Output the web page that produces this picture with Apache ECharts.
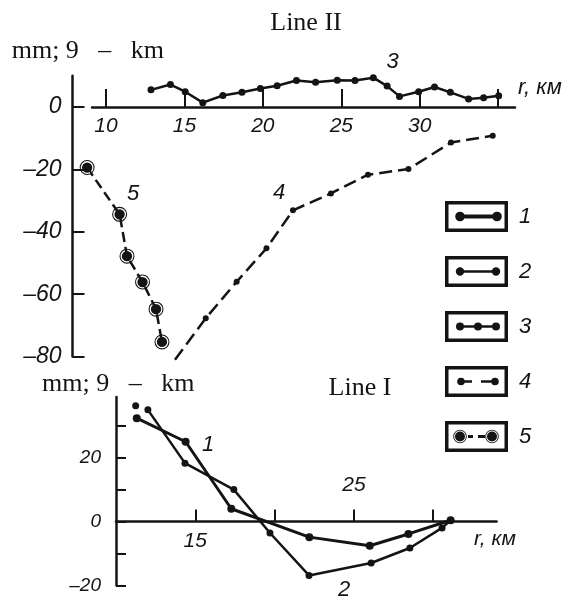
<!DOCTYPE html>
<html>
<head>
<meta charset="utf-8">
<script src="https://cdn.jsdelivr.net/npm/echarts@6.0.0/dist/echarts.min.js"></script>
<style>
html, body { margin: 0; padding: 0; background: #fff; }
#chart { width: 571px; height: 601px; }
</style>
</head>
<body>
<div id="chart"></div>
<script>
"use strict"

// Line II (top panel), r in km, values in mm
var line3Km = [12.87, 14.11, 15.05, 16.17, 17.45, 18.67, 19.84, 20.91, 22.14, 23.36, 24.74, 25.87, 27.04, 27.92, 28.71, 29.93, 30.94, 31.95, 33.11, 34.07, 35.03];
var line3Mm = [5.5, 7.2, 4.9, 1.4, 3.7, 4.7, 5.9, 6.8, 8.5, 7.9, 8.6, 8.5, 9.4, 6.7, 3.4, 4.9, 6.4, 4.7, 2.6, 3.0, 3.6];
var line4Km = [14.40, 16.36, 18.33, 20.23, 21.92, 24.34, 26.70, 29.28, 31.99, 34.65];
var line4Mm = [-81, -67.7, -56.0, -45.3, -33.1, -27.7, -21.7, -19.9, -11.4, -9.2];
var line5Km = [8.80, 10.87, 11.34, 12.33, 13.19, 13.57];
var line5Mm = [-19.4, -34.4, -47.8, -56.1, -64.8, -75.3];

// Line I (bottom panel)
var line1Km = [11.31, 14.39, 17.27, 22.19, 26.0, 28.44, 31.1];
var line1Mm = [32.4, 25.0, 4.0, -4.9, -7.6, -3.9, 0.4];
var line2Km = [11.24, 11.6, 12.01, 14.35, 17.43, 19.71, 22.17, 26.09, 28.53, 30.56, 31.1];
var line2Mm = [36.3, '-', 35.0, 18.3, 10.0, -3.6, -16.9, -13.0, -8.3, -2.0, 0.4];

// ticks and labels
var topXTicks = [10, 15, 20, 25, 30, 35];
var topXLabels = [10, 15, 20, 25, 30];
var topYTicks = [0, -20, -40, -60, -80];
var botXTicks = [15, 20, 25, 30];
var botXLabelsBelow = [15];
var botXLabelsAbove = [25];
var botYTicks = [-20, -10, 0, 10, 20, 30];
var botYLabels = [-20, 0, 20];
var seriesNames = ['1', '2', '3', '4', '5'];

var INK = '#141414';

function pairs(xs, ys){
    var out = [];
    for(let i = 0; i < xs.length; i++){
        out.push([xs[i], ys[i]]);
    }
    return out;
}

function minusLabel(v){
    return v < 0 ? '\u2013' + (-v) : '' + v;
}

// legend icon pieces, drawn in a 63x31 box
function circ(cx, cy, r, cw){
    var s = cw ? 1 : 0;
    return 'M' + (cx - r) + ' ' + cy + 'A' + r + ' ' + r + ' 0 1 ' + s + ' ' + (cx + r) + ' ' + cy +
           'A' + r + ' ' + r + ' 0 1 ' + s + ' ' + (cx - r) + ' ' + cy + 'Z';
}
function bar(x1, x2, cy, t){
    return 'M' + x1 + ' ' + (cy - t / 2) + 'H' + x2 + 'V' + (cy + t / 2) + 'H' + x1 + 'Z';
}
function ring(cx, cy){
    return circ(cx, cy, 6.8, true) + circ(cx, cy, 5.9, false) + circ(cx, cy, 5, true);
}
var frame = 'M0 0H63V31H0Z M3.5 3.5V27.5H59.5V3.5Z';
var icons = [
    frame + bar(15, 52, 15.5, 4) + circ(15, 15.5, 4.8, true) + circ(52, 15.5, 4.8, true),
    frame + bar(15, 51, 15.5, 2.5) + circ(15, 15.5, 4.2, true) + circ(51, 15.5, 4.2, true),
    frame + bar(15, 51, 15.5, 2.5) + circ(15, 15.5, 4, true) + circ(33, 15.5, 4, true) + circ(51, 15.5, 4, true),
    frame + bar(16, 27, 15.5, 2.5) + bar(36, 50, 15.5, 2.5) + circ(16, 15.5, 3.8, true) + circ(50, 15.5, 3.8, true),
    frame + bar(23, 28, 15.5, 3) + bar(33, 40, 15.5, 3) + ring(15, 15.5) + ring(47, 15.5)
];
// circled dot for series 5
var ringSymbol = 'path://M0 7A7 7 0 1 1 14 7A7 7 0 1 1 0 7Z M1 7A6 6 0 1 0 13 7A6 6 0 1 0 1 7Z M2.2 7A4.8 4.8 0 1 1 11.8 7A4.8 4.8 0 1 1 2.2 7Z';

function axisFont(size){
    return { fontFamily: 'Liberation Sans', fontStyle: 'italic', fontSize: size, color: INK };
}

function label(text, x, y, font, align){
    return {
        type: 'text', x: x, y: y, silent: true,
        style: { text: text, font: font, fill: INK, align: align || 'center', verticalAlign: 'middle',
                 textAlign: align || 'center', textVerticalAlign: 'middle' }
    };
}

// an axis that only places things, draws nothing
function hiddenAxis(grid, min, max){
    return { type: 'value', gridIndex: grid, min: min, max: max, show: false };
}

function drawChart(target){
    var chart = echarts.init(document.getElementById(target));
    var serif = '26px "Liberation Serif"';
    var ital = 'italic 22px "Liberation Sans"';
    var legendData = [];
    for(let i = 0; i < seriesNames.length; i++){
        legendData.push({ name: seriesNames[i], icon: 'path://' + icons[i] });
    }
    var axisLine = { show: true, onZero: false, lineStyle: { color: INK, width: 2.5 } };
    var tickStyle = { color: INK, width: 2 };

    var option = {
        animation: false,
        backgroundColor: '#fff',
        grid: [
            { left: 92, top: 75.8, width: 423, height: 280.8 },   // top, data
            { left: 92, top: 75.8, width: 423, height: 31.2 },    // top, down to r axis
            { left: 116, top: 397.1, width: 380.6, height: 188.2 }, // bottom, data
            { left: 116, top: 397.1, width: 380.6, height: 124.4 }, // bottom, above r axis
            { left: 116, top: 521.5, width: 380.6, height: 63.8 }   // bottom, below r axis
        ],
        xAxis: [
            hiddenAxis(0, 9.11, 36.07),
            {
                type: 'value', gridIndex: 1, min: 9.11, max: 36.07, position: 'bottom',
                splitLine: { show: false }, axisLine: axisLine,
                axisTick: { inside: true, length: 18, customValues: topXTicks, lineStyle: tickStyle },
                axisLabel: echarts.util.extend({ margin: 9, customValues: topXLabels }, axisFont(21))
            },
            hiddenAxis(2, 10, 34),
            {
                type: 'value', gridIndex: 3, min: 10, max: 34, position: 'bottom',
                splitLine: { show: false }, axisLine: axisLine,
                axisTick: { inside: true, length: 12, customValues: botXTicks, lineStyle: tickStyle },
                axisLabel: echarts.util.extend({ margin: 9, customValues: botXLabelsBelow }, axisFont(21))
            },
            {
                type: 'value', gridIndex: 4, min: 10, max: 34, position: 'top',
                splitLine: { show: false }, axisLine: { show: false }, axisTick: { show: false },
                axisLabel: echarts.util.extend({ margin: 26, customValues: botXLabelsAbove }, axisFont(21))
            }
        ],
        yAxis: [
            {
                type: 'value', gridIndex: 0, min: -80, max: 10, offset: 19.5,
                splitLine: { show: false }, axisLine: axisLine,
                axisTick: { show: true, inside: true, length: 12, customValues: topYTicks, lineStyle: tickStyle },
                axisLabel: echarts.util.extend({ margin: 11, customValues: topYTicks, formatter: minusLabel }, axisFont(23))
            },
            hiddenAxis(1, 0, 10),
            {
                type: 'value', gridIndex: 2, min: -20, max: 39,
                splitLine: { show: false }, axisLine: axisLine,
                axisTick: { show: true, inside: true, length: 10, customValues: botYTicks, lineStyle: tickStyle },
                axisLabel: echarts.util.extend({ margin: 15, customValues: botYLabels, formatter: minusLabel }, axisFont(19))
            },
            hiddenAxis(3, 0, 39),
            hiddenAxis(4, -20, 0)
        ],
        legend: {
            orient: 'vertical',
            left: 440,
            top: 196,
            itemWidth: 63,
            itemHeight: 31,
            itemGap: 24,
            selectedMode: false,
            data: legendData,
            itemStyle: { color: INK, borderWidth: 0 },
            textStyle: { fontFamily: 'Liberation Sans', fontStyle: 'italic', fontSize: 22, color: INK, padding: [0, 0, 0, 6] }
        },
        graphic: [
            label('Line II', 306, 23.5, serif),
            label('mm; 9   \u2013   km', 11.7, 51.5, serif, 'left'),
            label('Line I', 360, 388.5, serif),
            label('mm; 9   \u2013   km', 42, 384, serif, 'left'),
            label('r, \u043a\u043c', 518, 88, ital, 'left'),
            label('r, \u043a\u043c', 474, 539, 'italic 21px "Liberation Sans"', 'left'),
            label('3', 392.5, 61.7, ital),
            label('4', 279, 193, ital),
            label('5', 133, 194, ital),
            label('1', 208, 445, ital),
            label('2', 344, 590, ital)
        ],
        series: [
            {
                name: '1', type: 'line', xAxisIndex: 2, yAxisIndex: 2,
                data: pairs(line1Km, line1Mm),
                symbol: 'circle', symbolSize: 8, showAllSymbol: true,
                itemStyle: { color: INK, borderWidth: 0 },
                lineStyle: { color: INK, width: 3 }
            },
            {
                name: '2', type: 'line', xAxisIndex: 2, yAxisIndex: 2,
                data: pairs(line2Km, line2Mm),
                symbol: 'circle', symbolSize: 7, showAllSymbol: true,
                itemStyle: { color: INK, borderWidth: 0 },
                lineStyle: { color: INK, width: 2.5 }
            },
            {
                name: '3', type: 'line', xAxisIndex: 0, yAxisIndex: 0,
                data: pairs(line3Km, line3Mm),
                symbol: 'circle', symbolSize: 7, showAllSymbol: true, clip: false,
                itemStyle: { color: INK, borderWidth: 0 },
                lineStyle: { color: INK, width: 2.5 }
            },
            {
                name: '4', type: 'line', xAxisIndex: 0, yAxisIndex: 0,
                data: (function(){
                    var d = pairs(line4Km, line4Mm);
                    d[0] = { value: d[0], symbol: 'none' };
                    return d;
                })(),
                symbol: 'circle', symbolSize: 6, showAllSymbol: true, clip: false,
                itemStyle: { color: INK, borderWidth: 0 },
                lineStyle: { color: INK, width: 2.5, type: [13, 6] }
            },
            {
                name: '5', type: 'line', xAxisIndex: 0, yAxisIndex: 0,
                data: pairs(line5Km, line5Mm),
                symbol: ringSymbol, symbolSize: 15, showAllSymbol: true, clip: false,
                itemStyle: { color: INK, borderWidth: 0 },
                lineStyle: { color: INK, width: 2.5, type: [10, 5] }
            }
        ]
    };
    chart.setOption(option);
}

drawChart('chart');
</script>
</body>
</html>
